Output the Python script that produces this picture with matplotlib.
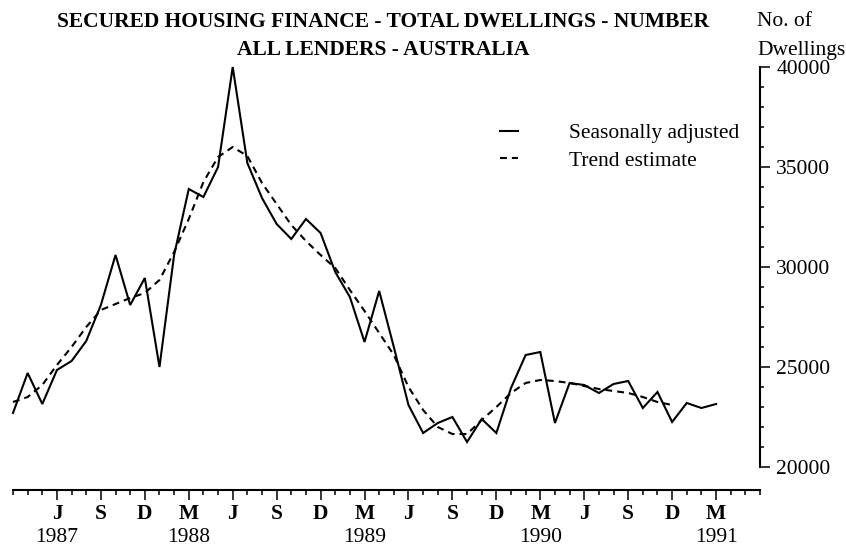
import matplotlib
matplotlib.use("Agg")
import matplotlib.pyplot as plt
from matplotlib.ticker import FixedLocator

plt.rcParams['font.family'] = ['Liberation Serif', 'DejaVu Serif']

# month index 0 = March 1987
seasonally_adjusted = [22700, 24700, 23150, 24850, 25300, 26300, 28100, 30600, 28100, 29450,
                       25000, 30600, 33900, 33500, 35000, 40000, 35200, 33450, 32150, 31400,
                       32400, 31700, 29750, 28500, 26250, 28800, 26000, 23100, 21700, 22200,
                       22500, 21250, 22400, 21700, 23950, 25600, 25750, 22200, 24200, 24100,
                       23700, 24150, 24300, 22950, 23750, 22250, 23200, 22950, 23150]
trend_estimate = [23250, 23500, 24100, 25100, 26000, 27000, 27850, 28150, 28450, 28700,
                  29350, 30750, 32400, 34250, 35500, 36000, 35550, 34200, 33150, 32100,
                  31300, 30600, 29950, 28850, 27800, 26700, 25600, 24000, 22850, 22000,
                  21650, 21650, 22350, 23000, 23700, 24200, 24350, 24300, 24200, 24050,
                  23900, 23800, 23700, 23500, 23250, 23100]
month_labels = ['J', 'S', 'D', 'M'] * 4
year_labels = ['1987', '1988', '1989', '1990', '1991']
year_months = [3, 12, 24, 36, 48]

W, H = 846, 548
fs = 15.5
fig = plt.figure(figsize=(W / 100, H / 100), dpi=100)
ax = fig.add_axes([13 / W, 1 - 490 / H, (760 - 13) / W, (490 - 67) / H])

sa_line, = ax.plot(range(len(seasonally_adjusted)), seasonally_adjusted, color='black',
                   lw=1.5, solid_joinstyle='miter', clip_on=False)
tr_line, = ax.plot(range(len(trend_estimate)), trend_estimate, color='black',
                   lw=1.5, dashes=(3.3, 2.4), clip_on=False)

ax.set_xlim(0, 51)
ax.set_ylim(18850, 40000)

for s in ['left', 'top']:
    ax.spines[s].set_visible(False)
ax.spines['right'].set_bounds(20000, 40000)
ax.spines['right'].set_linewidth(1.5)
ax.spines['bottom'].set_linewidth(1.5)

ax.yaxis.tick_right()
ax.set_yticks([20000, 25000, 30000, 35000, 40000])
ax.yaxis.set_minor_locator(FixedLocator([v for v in range(20000, 40001, 1000) if v % 5000]))
ax.tick_params(axis='y', which='major', direction='out', length=7.2, width=1.1, pad=4.5,
               labelsize=fs)
ax.tick_params(axis='y', which='minor', direction='out', length=2.9, width=1.1)

ax.set_xticks(range(3, 49, 3))
ax.set_xticklabels(month_labels, fontweight='bold')
ax.xaxis.set_minor_locator(FixedLocator(range(0, 52)))
ax.tick_params(axis='x', which='major', direction='out', length=7.2, width=1.1, pad=3.0,
               labelsize=fs)
ax.tick_params(axis='x', which='minor', direction='out', length=3.6, width=1.1)

for m, yr in zip(year_months, year_labels):
    ax.text(m, -(538 - 490) / (490 - 67), yr, transform=ax.get_xaxis_transform(),
            ha='center', va='center', fontsize=fs)

fig.text(383 / W, 1 - 22 / H, 'SECURED HOUSING FINANCE - TOTAL DWELLINGS - NUMBER',
         ha='center', va='center', fontsize=fs, fontweight='bold')
fig.text(383 / W, 1 - 50 / H, 'ALL LENDERS - AUSTRALIA',
         ha='center', va='center', fontsize=fs, fontweight='bold')
fig.text(757 / W, 1 - 22 / H, 'No. of', ha='left', va='center', fontsize=fs)
fig.text(757 / W, 1 - 50 / H, 'Dwellings', ha='left', va='center', fontsize=fs)

ax.legend([sa_line, tr_line], ['Seasonally adjusted', 'Trend estimate'],
          loc='center left', bbox_to_anchor=(500 / W, 1 - 147 / H),
          bbox_transform=fig.transFigure, frameon=False, fontsize=fs,
          borderpad=0, borderaxespad=0, handlelength=0.84, handletextpad=2.37,
          labelspacing=0.35)

fig.savefig('out.png', dpi=100)
